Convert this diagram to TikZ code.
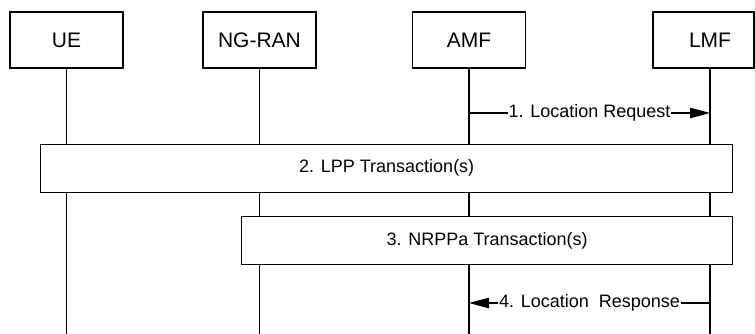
\documentclass[tikz,border=0pt]{standalone}
\usepackage{fontspec}
\setmainfont{Liberation Sans}
\usetikzlibrary{arrows.meta}
\begin{document}
\begin{tikzpicture}[x=1pt,y=-1pt,
  actor/.style={draw,line width=1.2pt,fill=white,minimum width=113pt,minimum height=56pt,inner sep=0pt,font=\fontsize{21}{25}\selectfont},
  trans/.style={draw,line width=1.2pt,fill=white,minimum height=48pt,inner sep=0pt,font=\fontsize{18}{22}\selectfont},
  life/.style={line width=1.2pt},
  msg/.style={line width=1.2pt,-{Triangle[length=20pt,width=10.5pt]}},
  msglabel/.style={fill=white,inner xsep=1pt,inner ysep=1pt,font=\fontsize{18}{22}\selectfont}]
\useasboundingbox (0,0) rectangle (755,334);
% actors
\node[actor] (ue) at (66.5,40) {UE};
\node[actor] (ran) at (259.5,40) {NG-RAN};
\node[actor] (amf) at (469,40) {AMF};
\node[actor,minimum width=101pt] (lmf) at (703.5,40) {\hspace*{13pt}LMF};
% helper coordinates
\coordinate (bot) at (0,334);
\coordinate (lmfx) at (710,0);
\coordinate (y1) at (0,113);
\coordinate (y4) at (0,303);
% lifelines
\draw[life] (ue.south) -- (ue.south |- bot);
\draw[life] (ran.south) -- (ran.south |- bot);
\draw[life] (amf.south) -- (amf.south |- bot);
\draw[life] (lmf.south -| lmfx) -- (lmfx |- bot);
% transactions
\node[trans,minimum width=692pt] (lpp) at (386.7,168.3) {2. LPP Transaction(s)};
\node[trans,minimum width=491pt] (nrppa) at (487.2,240.7) {3. NRPPa Transaction(s)};
% messages
\draw[msg] (amf.south |- y1) -- node[msglabel] {1. Location Request} (lmfx |- y1);
\draw[msg] (lmfx |- y4) -- node[msglabel] {4. Location\ \ Response} (amf.south |- y4);
\end{tikzpicture}
\end{document}
